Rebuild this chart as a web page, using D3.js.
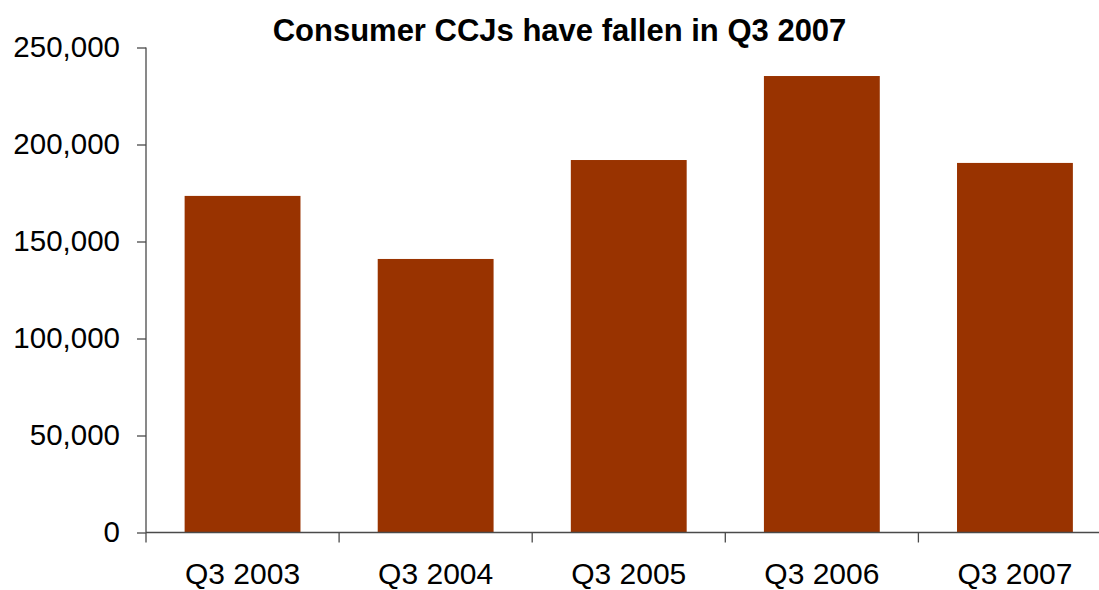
<!DOCTYPE html>
<html>
<head>
<meta charset="utf-8">
<script src="https://cdn.jsdelivr.net/npm/d3@7"></script>
<style>
  html, body { margin: 0; padding: 0; background: #fff; }
  svg { display: block; }
  text { font-family: "Liberation Sans", Arial, sans-serif; fill: #000; }
</style>
</head>
<body>
<svg id="chart" width="1099" height="590"></svg>
<script>
const title = "Consumer CCJs have fallen in Q3 2007";
const categories = ["Q3 2003", "Q3 2004", "Q3 2005", "Q3 2006", "Q3 2007"];
const values = [173500, 141000, 192000, 235300, 190500];
const yTicks = [0, 50000, 100000, 150000, 200000, 250000];

const svg = d3.select("#chart");
const plotLeft = 146, plotRight = 1111.5, plotTop = 47.5, plotBottom = 532.5;

const x = d3.scaleBand().domain(categories).range([plotLeft, plotRight]).paddingInner(0.4).paddingOuter(0.2);
const y = d3.scaleLinear().domain([0, 250000]).range([plotBottom, plotTop]);

// bars
svg.append("g").selectAll("rect").data(values).join("rect")
  .attr("x", (d, i) => x(categories[i]))
  .attr("y", d => y(d))
  .attr("width", x.bandwidth())
  .attr("height", d => y(0) - y(d))
  .attr("fill", "#993300");

const axisColor = "#4a4a4a";

// y axis
const yAxis = svg.append("g").attr("transform", `translate(${plotLeft},0)`)
  .call(d3.axisLeft(y).tickValues(yTicks).tickSize(9).tickPadding(17)
    .tickFormat(d3.format(",")));
yAxis.select(".domain").attr("stroke", axisColor).attr("stroke-width", 1.3)
  .attr("d", `M0,${plotTop}V${plotBottom}`);
yAxis.selectAll(".tick line").attr("stroke", axisColor).attr("stroke-width", 1.3);
yAxis.selectAll(".tick text").attr("font-size", 29.5).attr("font-family", "Liberation Sans, Arial, sans-serif").attr("fill", "#000");

// x axis (ticks at category boundaries)
const step = x.step();
const boundaries = d3.range(categories.length + 1).map(i => plotLeft + i * step);
const xg = svg.append("g");
xg.append("line").attr("x1", plotLeft).attr("x2", plotRight).attr("y1", plotBottom).attr("y2", plotBottom)
  .attr("stroke", axisColor).attr("stroke-width", 1.5);
xg.selectAll("line.tk").data(boundaries).join("line").attr("class", "tk")
  .attr("x1", d => d).attr("x2", d => d).attr("y1", plotBottom).attr("y2", plotBottom + 10)
  .attr("stroke", axisColor).attr("stroke-width", 1.3);
xg.selectAll("text").data(categories).join("text")
  .attr("x", d => x(d) + x.bandwidth() / 2)
  .attr("y", 584)
  .attr("text-anchor", "middle")
  .attr("font-size", 30)
  .text(d => d);

// title
svg.append("text").attr("x", 559.5).attr("y", 41).attr("text-anchor", "middle")
  .attr("font-size", 31).attr("font-weight", "bold").text(title);
</script>
</body>
</html>
